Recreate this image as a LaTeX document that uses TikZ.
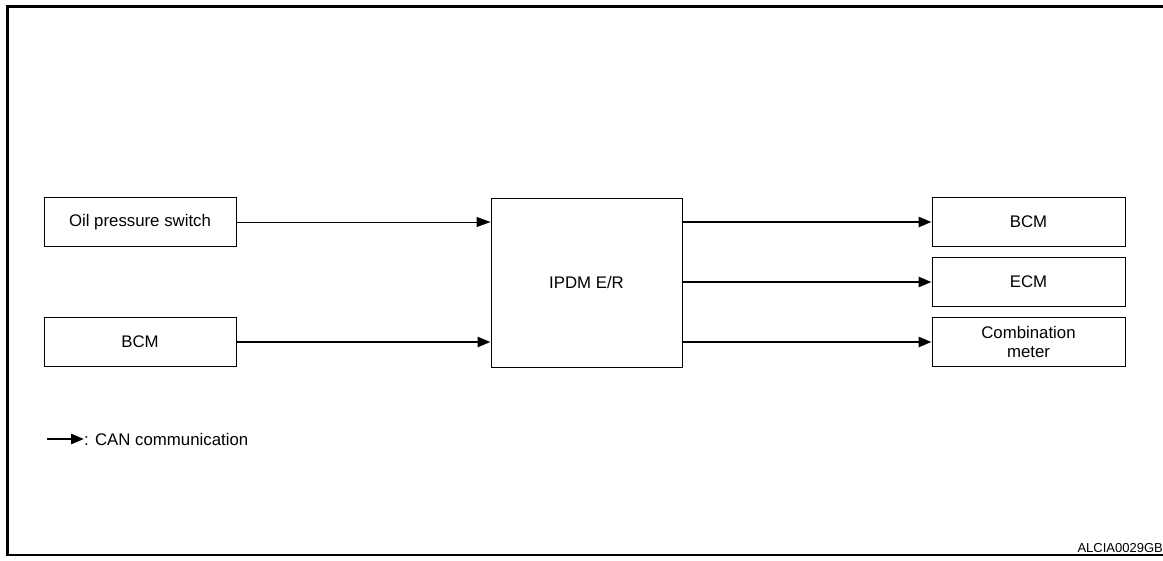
\documentclass[tikz,border=0pt]{standalone}
\usepackage{fontspec}
\setmainfont{Liberation Sans}
\usetikzlibrary{arrows.meta,positioning}

\begin{document}
\begin{tikzpicture}[x=1pt,y=-1pt,
    unit/.style={draw,line width=0.9pt,minimum width=192pt,minimum height=49pt,align=center,font=\fontsize{16.8}{20}\selectfont},
    sig/.style={line width=0.9pt,-{Triangle[length=14pt,width=10pt]}},
    can/.style={line width=2.6pt,-{Triangle[length=13pt,width=10pt]}}]
    \useasboundingbox (0,0) rectangle (1163,561);

    % Frame
    \draw[line width=3pt] (1163,7) -- (7.5,7) -- (7.5,555);
    \draw[line width=1.5pt] (6,555) -- (1163,555);

    % Units
    \node[unit] (oil) at (140,222) {Oil pressure switch};
    \node[unit] (bcmin) at (140,342) {BCM};
    \node[unit,minimum height=169pt,minimum width=191pt] (ipdm) at (586.5,282.5) {IPDM E/R};
    \node[unit,minimum width=193pt] (bcmout) at (1028.5,222) {BCM};
    \node[unit,minimum width=193pt] (ecm) at (1028.5,282) {ECM};
    \node[unit,minimum width=193pt] (meter) at (1028.5,342) {Combination\\[-0.5pt]meter};

    % Signals
    \draw[sig] (oil.east) -- (oil.east -| ipdm.west);
    \draw[can] (bcmin.east) -- (bcmin.east -| ipdm.west);
    \draw[can] (bcmout.west -| ipdm.east) -- (bcmout.west);
    \draw[can] (ecm.west -| ipdm.east) -- (ecm.west);
    \draw[can] (meter.west -| ipdm.east) -- (meter.west);

    % Legend
    \coordinate (legA) at (47,439);
    \node[right,inner sep=0pt,font=\fontsize{16.8}{20}\selectfont] (legtxt) at (84,439) {: CAN communication};
    \draw[can] (legA) -- (legtxt.west);

    \node[anchor=south east,inner sep=0pt,font=\fontsize{13}{15}\selectfont] (code) at (1163,553) {ALCIA0029GB};
\end{tikzpicture}
\end{document}
